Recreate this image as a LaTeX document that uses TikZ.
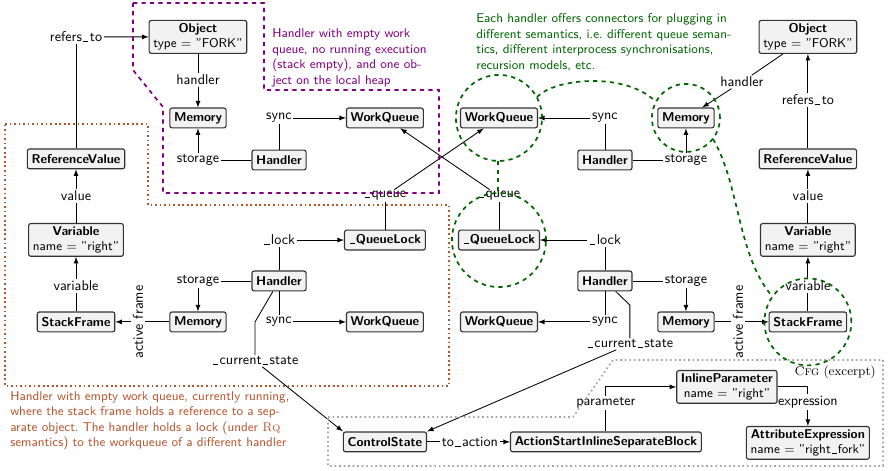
\documentclass[tikz,border=0pt]{standalone}
\usepackage{amsmath}
\usepackage[dvipsnames]{xcolor}
\usepackage{tikz}
\usetikzlibrary{arrows}
\usetikzlibrary{positioning}
\definecolor{cbpurple}{RGB}{128, 0, 128}
\definecolor{cbrust}{RGB}{180, 85, 45}
\definecolor{cbgreen}{RGB}{0, 100, 0}
\definecolor{cbbox}{RGB}{242, 242, 242}
\newcommand{\mScStyle}[1]{\textrm{\textsc{#1}}}
\newcommand{\mCfg}{\mScStyle{Cfg}}
\newcommand{\mRq}{\mScStyle{Rq}}
\newcommand{\mUs}{\kern.1em\vbox{\hrule width .36em}\kern.1em}
\newcommand{\mQueueLock}{\mUs QueueLock}
\newcommand{\mFork}{{\mdseries type = "FORK"}}
\newcommand{\mRight}{{\mdseries name = "right"}}
\newcommand{\mRightFork}{{\mdseries name = "right\mUs fork"}}

\begin{document}
\begin{tikzpicture}[%
    >=latex,                 % small filled tips
    x=0.706pt, y=-0.706pt,   % one unit is one pixel of the sketch, y runs down
    font=\sffamily,
    ]
% -------------------------------------------------
% Box styles; <on grid> lets distances run centre to centre
\tikzset{
  base/.style={on grid, align=center},
  obj/.style={base, draw=black!80, thick, fill=cbbox, rounded corners=1.5pt,
    font=\sffamily\small\bfseries, inner xsep=3pt, inner ysep=2pt, minimum height=14pt},
  txt/.style={base, draw=none, fill=none, inner sep=1pt},
  note/.style={anchor=north west, inner sep=0pt, align=left, font=\sffamily\small},
  % -------------------------------------------------
  norm/.style={->, draw, black, semithick},
  line/.style={draw, black, semithick},
  grpdash/.style={line width=1.2pt, dashed},
  grpdot/.style={line width=1.2pt, dotted}
  }
\useasboundingbox (0,0) rectangle (888,470);
% -------------------------------------------------
% Handler with empty queue (top left)
\node [obj] (h1) at (279,160) {Handler};
\node [txt, above=29.7pt of h1] (sy1) {sync};
\node [txt, left=57.2pt of h1] (st1) {storage};
\node [obj, above=29.7pt of st1] (m1) {Memory};
\node [txt, above=26.8pt of m1] (hn1) {handler};
\node [obj, above=57.2pt of m1] (o1) {Object\\\mFork};
\node [obj, right=74.8pt of sy1] (w1) {WorkQueue};

% Running handler (left)
\node [obj, below=85.4pt of h1] (h2) {Handler};
\node [txt, above=28.9pt of h2] (lk2) {\mUs lock};
\node [txt, left=57.2pt of h2] (st2) {storage};
\node [txt, below=28.9pt of h2] (sy2) {sync};
\node [obj, right=74.8pt of lk2] (q2) {\mQueueLock};
\node [obj, right=74.8pt of sy2] (w2) {WorkQueue};
\node [txt, above=31.1pt of q2] (qu2) {\mUs queue};
\node [obj, below=28.9pt of st2] (m2) {Memory};
\node [txt, rotate=90, left=42.4pt of m2] (af2) {active frame};
\node [obj, left=86.1pt of m2] (f2) {StackFrame};
\node [txt, above=25.4pt of f2] (vr2) {variable};
\node [obj, above=57.9pt of f2] (v2) {Variable\\\mRight};
\node [txt, above=31.1pt of v2] (va2) {value};
\node [obj, above=57.2pt of v2] (r2) {ReferenceValue};
\node [txt, above=86.1pt of r2] (rf2) {refers\mUs to};
\node [txt, below left=56.5pt and 16.9pt of h2] (cu2) {\mUs current\mUs state};

% Handler at the top right
\node [obj, right=80.5pt of w1] (w3) {WorkQueue};
\node [txt, right=74.8pt of w3] (sy3) {sync};
\node [obj, below=29.7pt of sy3] (h3) {Handler};
\node [txt, right=57.2pt of h3] (st3) {storage};
\node [obj, above=29.7pt of st3] (m3) {Memory};
\node [txt, above right=25.4pt and 39.5pt of m3] (hn3) {handler};

% Running handler (right)
\node [obj, right=80.5pt of q2] (q4) {\mQueueLock};
\node [txt, above=31.1pt of q4] (qu4) {\mUs queue};
\node [txt, right=74.8pt of q4] (lk4) {\mUs lock};
\node [obj, below=28.9pt of lk4] (h4) {Handler};
\node [txt, right=57.2pt of h4] (st4) {storage};
\node [txt, below=28.9pt of h4] (sy4) {sync};
\node [obj, left=74.8pt of sy4] (w4) {WorkQueue};
\node [obj, below=28.9pt of st4] (m4) {Memory};
\node [txt, rotate=90, right=36.7pt of m4] (af4) {active frame};
\node [obj, right=86.1pt of m4] (f4) {StackFrame};
\node [txt, above=25.4pt of f4] (vr4) {variable};
\node [obj, above=57.9pt of f4] (v4) {Variable\\\mRight};
\node [txt, above=31.1pt of v4] (va4) {value};
\node [obj, above=57.2pt of v4] (r4) {ReferenceValue};
\node [txt, above=41.7pt of r4] (rf4) {refers\mUs to};
\node [obj, above=86.1pt of r4] (o4) {Object\\\mFork};
\node [txt, below right=44.5pt and 17.6pt of h4] (cu4) {\mUs current\mUs state};
\coordinate [on grid, above=27.5pt of cu4] (k4);

% Control flow graph
\node [obj, below=84.7pt of w2] (cs) {ControlState};
\node [txt, right=60pt of cs] (ta) {to\mUs action};
\node [obj, right=156pt of cs] (a1) {ActionStartInlineSeparateBlock};
\node [txt, above=27.5pt of a1] (pa) {parameter};
\node [obj, above right=38.8pt and 85.4pt of a1] (ip) {InlineParameter\\\mRight};
\node [obj, below right=39.5pt and 57.2pt of ip] (ae) {AttributeExpression\\\mRightFork};
\node [txt, above=28.9pt of ae] (ex) {expression};

% -------------------------------------------------
% Connectors
\draw [line] (o1) -- (hn1);
\draw [norm] (hn1) -- (m1);
\draw [line] (h1) -- (st1);
\draw [norm] (st1) -- (m1);
\draw [line] (h1) -- (sy1);
\draw [norm] (sy1) -- (w1);

\draw [line] (r2) -- (rf2);
\draw [norm] (rf2) -- (o1);
\draw [line] (v2) -- (va2);
\draw [norm] (va2) -- (r2);
\draw [line] (f2) -- (vr2);
\draw [norm] (vr2) -- (v2);
\draw [line] (m2) -- (af2);
\draw [norm] (af2) -- (f2);
\draw [line] (h2) -- (st2);
\draw [norm] (st2) -- (m2);
\draw [line] (h2) -- (lk2);
\draw [norm] (lk2) -- (q2);
\draw [line] (h2) -- (sy2);
\draw [norm] (sy2) -- (w2);
\draw [line] (q2) -- (qu2);
\draw [norm] (qu2) -- (w3);
\draw [line] (h2) -- (cu2 |- sy2) -- (cu2);
\draw [norm] (cu2) -- (cs.north west);

\draw [line] (h3) -- (sy3);
\draw [norm] (sy3) -- (w3);
\draw [line] (h3) -- (st3);
\draw [norm] (st3) -- (m3);
\draw [line] (o4) -- (hn3);
\draw [norm] (hn3) -- (m3);

\draw [line] (r4) -- (rf4);
\draw [norm] (rf4) -- (o4);
\draw [line] (v4) -- (va4);
\draw [norm] (va4) -- (r4);
\draw [line] (f4) -- (vr4);
\draw [norm] (vr4) -- (v4);
\draw [line] (m4) -- (af4);
\draw [norm] (af4) -- (f4);
\draw [line] (h4) -- (st4);
\draw [norm] (st4) -- (m4);
\draw [line] (h4) -- (lk4);
\draw [norm] (lk4) -- (q4);
\draw [line] (h4) -- (sy4);
\draw [norm] (sy4) -- (w4);
\draw [line] (q4) -- (qu4);
\draw [norm] (qu4) -- (w1);
\draw [line] (h4) -- (k4) -- (cu4);
\draw [norm] (cu4) -- (cs.north east);

\draw [line] (cs) -- (ta);
\draw [norm] (ta) -- (a1);
\draw [line] (a1) -- (pa);
\draw [norm] (pa) |- (ip);
\draw [line] (ip) -| (ex);
\draw [norm] (ex) -- (ae);

% -------------------------------------------------
% Groups and notes
\draw [cbpurple, grpdash] (133,3) -- (264,3) -- (264,90) -- (439,90) -- (439,193)
  -- (163,193) -- (163,107) -- (133,70) -- cycle;
\node [note, text width=109.4pt, text=cbpurple] (n1) at (272,28.5)
  {Handler with empty work queue, no running execution (stack empty), and one object on the local heap};

\draw [cbrust, grpdot] (5,124) -- (148,124) -- (148,205) -- (449,205) -- (449,386) -- (5,386) -- cycle;
\node [note, text width=201pt, text=cbrust] (n2) at (10,391)
  {\frenchspacing Handler with empty work queue, currently running, where the stack frame holds a reference to a separate object. The handler holds a lock (under \mRq{} semantics) to the workqueue of a different handler};

\draw [gray!70, grpdot] (328,417) -- (573,417) -- (613,360) -- (883,360) -- (883,466) -- (328,466) -- cycle;
\node [note, anchor=north east, font=\rmfamily\small] (cf) at (876,366) {\mCfg{} (excerpt)};

\draw [cbgreen, grpdash] (w3) circle [radius=30.4pt];
\draw [cbgreen, grpdash] (m3) circle [radius=24pt];
\draw [cbgreen, grpdash] (q4) circle [radius=33.2pt];
\draw [cbgreen, grpdash] (f4) circle [radius=30.7pt];
\draw [cbgreen, grpdash] (537,97) .. controls (555,78) and (625,72) .. (655,101);
\draw [cbgreen, grpdash] (498,161) -- (498,193);
\draw [cbgreen, grpdash] (713,139) .. controls (740,185) and (737,255) .. (772,296);
\node [note, text width=183pt, text=cbgreen] (n3) at (476,13.5)
  {Each handler offers connectors for plugging in different semantics, i.e.\ different queue semantics, different interprocess synchronisations, recursion models, etc.};
\end{tikzpicture}
\end{document}
